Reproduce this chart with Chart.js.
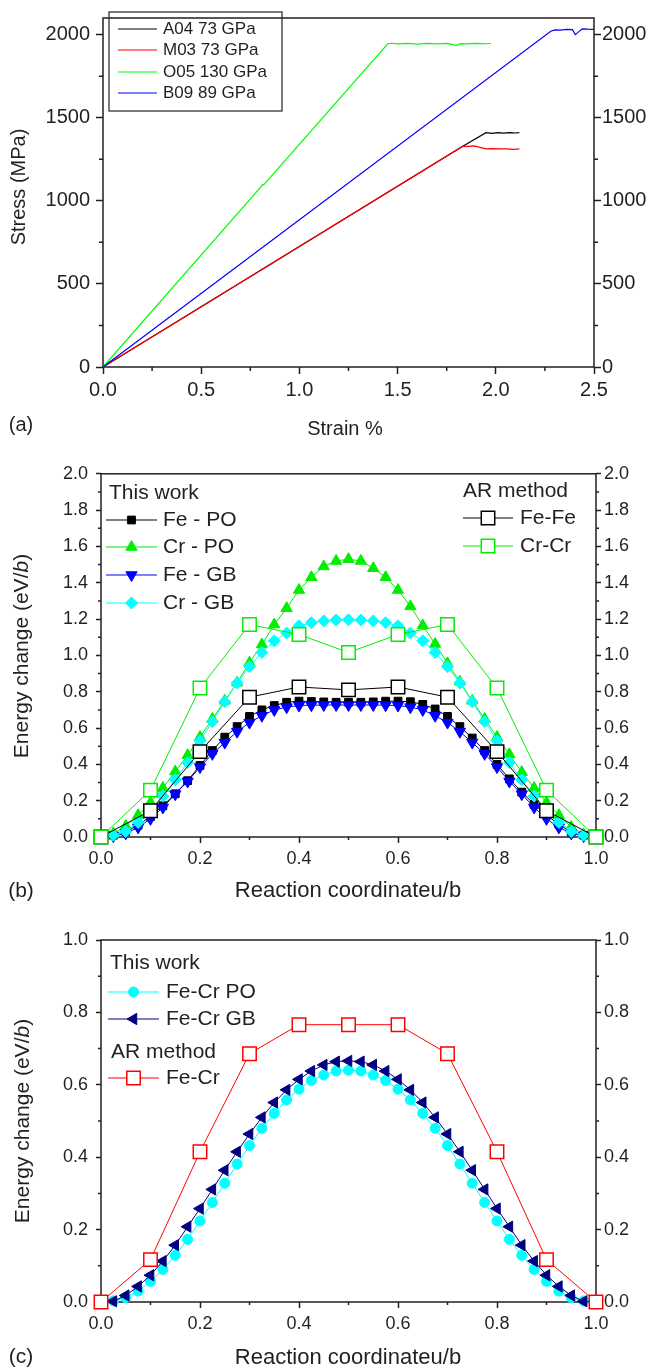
<!DOCTYPE html>
<html><head><meta charset="utf-8">
<script src="https://cdn.jsdelivr.net/npm/chart.js@4.4.0/dist/chart.umd.min.js"></script>
<style>
html,body{margin:0;padding:0;background:#fff;}
body{width:648px;height:1369px;position:relative;overflow:hidden;font-family:"Liberation Sans",Arial,sans-serif;color:#231f20;}
canvas{position:absolute;left:0;}
.t{position:absolute;white-space:nowrap;line-height:1;transform:translate(-50%,-50%);}
.r{transform:translate(-50%,-50%) rotate(-90deg);}
</style></head><body>
<canvas id="ca" width="648" height="455" style="top:0px"></canvas>
<canvas id="cb" width="648" height="465" style="top:455px"></canvas>
<canvas id="cc" width="648" height="449" style="top:920px"></canvas>
<div class="t" style="left:21px;top:424px;font-size:20px">(a)</div>
<div class="t" style="left:345px;top:428px;font-size:20px">Strain %</div>
<div class="t r" style="left:18px;top:187px;font-size:20px">Stress (MPa)</div>
<div class="t" style="left:21px;top:889px;font-size:21px">(b)</div>
<div class="t" style="left:348px;top:890px;font-size:22px">Reaction coordinateu/b</div>
<div class="t r" style="left:20px;top:656px;font-size:21px">Energy change (eV/<i>b</i>)</div>
<div class="t" style="left:21px;top:1355px;font-size:21px">(c)</div>
<div class="t" style="left:348px;top:1357px;font-size:22px">Reaction coordinateu/b</div>
<div class="t r" style="left:21px;top:1121px;font-size:21px">Energy change (eV/<i>b</i>)</div>
<script>
// ---------- Panel (a) data ----------
const strainTicks = [0, 0.5, 1.0, 1.5, 2.0, 2.5];
const strainMinor = [0.25, 0.75, 1.25, 1.75, 2.25];
const stressTicks = [0, 500, 1000, 1500, 2000];
const stressMinor = [250, 750, 1250, 1750];

const a04Strain = [0, 1.83, 1.95, 1.98, 2.01, 2.04, 2.07, 2.10, 2.12];
const a04Stress = [0, 1327, 1410, 1406, 1410, 1407, 1410, 1408, 1410];
const m03Strain = [0, 1.83, 1.86, 1.89, 1.92, 1.95, 1.98, 2.02, 2.06, 2.09, 2.12];
const m03Stress = [0, 1327, 1328, 1330, 1322, 1313, 1314, 1312, 1313, 1310, 1312];
const o05Strain = [0, 0.805, 0.81, 0.818, 1.45, 1.47, 1.50, 1.55, 1.60, 1.65, 1.70, 1.75, 1.80, 1.82, 1.85, 1.90, 1.95, 1.975];
const o05Stress = [0, 1085, 1096, 1096, 1945, 1948, 1944, 1947, 1943, 1947, 1944, 1947, 1936, 1946, 1944, 1947, 1945, 1948];
const b09Strain = [0, 2.28, 2.30, 2.33, 2.36, 2.39, 2.405, 2.42, 2.44, 2.47, 2.50];
const b09Stress = [0, 2020, 2028, 2027, 2032, 2030, 2000, 2015, 2035, 2033, 2032];

// ---------- Panel (b) data ----------
const uTicks = [0, 0.2, 0.4, 0.6, 0.8, 1.0];
const uMinor = [0.1, 0.3, 0.5, 0.7, 0.9];
const energyTicksB = [0, 0.2, 0.4, 0.6, 0.8, 1.0, 1.2, 1.4, 1.6, 1.8, 2.0];
const energyMinorB = [0.1, 0.3, 0.5, 0.7, 0.9, 1.1, 1.3, 1.5, 1.7, 1.9];
const uFine = [0,0.025,0.05,0.075,0.1,0.125,0.15,0.175,0.2,0.225,0.25,0.275,0.3,0.325,0.35,0.375,0.4,0.425,0.45,0.475,0.5,0.525,0.55,0.575,0.6,0.625,0.65,0.675,0.7,0.725,0.75,0.775,0.8,0.825,0.85,0.875,0.9,0.925,0.95,0.975,1.0];
const uAR = [0,0.1,0.2,0.3,0.4,0.5,0.6,0.7,0.8,0.9,1.0];
const fePO = [0,0.01,0.03,0.065,0.113,0.172,0.238,0.31,0.394,0.476,0.55,0.608,0.664,0.70,0.724,0.742,0.748,0.746,0.744,0.742,0.742,0.742,0.744,0.748,0.748,0.745,0.73,0.705,0.664,0.608,0.545,0.476,0.40,0.32,0.247,0.18,0.12,0.07,0.028,0.01,0];
const crPO = [0,0.02,0.06,0.12,0.19,0.27,0.36,0.45,0.55,0.65,0.75,0.85,0.96,1.06,1.17,1.26,1.36,1.43,1.49,1.52,1.53,1.52,1.48,1.43,1.36,1.27,1.165,1.063,0.956,0.855,0.75,0.65,0.55,0.455,0.357,0.27,0.19,0.12,0.055,0.015,0];
const feGB = [0,0.005,0.02,0.053,0.1,0.163,0.236,0.306,0.385,0.458,0.52,0.58,0.63,0.668,0.70,0.715,0.724,0.726,0.727,0.727,0.727,0.727,0.727,0.726,0.724,0.715,0.70,0.668,0.63,0.58,0.52,0.458,0.385,0.306,0.236,0.163,0.10,0.053,0.02,0.005,0];
const crGB = [0,0.01,0.03,0.08,0.145,0.225,0.315,0.41,0.53,0.636,0.745,0.848,0.938,1.016,1.08,1.123,1.163,1.18,1.19,1.195,1.196,1.195,1.19,1.18,1.163,1.123,1.08,1.016,0.938,0.848,0.745,0.636,0.53,0.41,0.315,0.225,0.145,0.08,0.03,0.01,0];
const arFeFe = [0,0.145,0.47,0.77,0.826,0.81,0.826,0.77,0.47,0.145,0];
const arCrCr = [0,0.258,0.82,1.17,1.115,1.016,1.115,1.17,0.82,0.258,0];

// ---------- Panel (c) data ----------
const energyTicksC = [0, 0.2, 0.4, 0.6, 0.8, 1.0];
const energyMinorC = [0.1, 0.3, 0.5, 0.7, 0.9];
const feCrPO = [0,0.003,0.012,0.03,0.057,0.09,0.129,0.173,0.224,0.275,0.328,0.381,0.432,0.48,0.521,0.558,0.588,0.612,0.627,0.638,0.64,0.638,0.627,0.612,0.588,0.558,0.521,0.48,0.432,0.381,0.328,0.275,0.224,0.173,0.129,0.09,0.057,0.03,0.012,0.003,0];
const feCrGB = [0,0.002,0.018,0.043,0.074,0.113,0.157,0.208,0.258,0.311,0.364,0.415,0.464,0.51,0.551,0.586,0.615,0.638,0.655,0.664,0.666,0.664,0.655,0.638,0.615,0.586,0.551,0.51,0.464,0.415,0.364,0.311,0.258,0.208,0.157,0.113,0.074,0.043,0.018,0.002,0];
const arFeCr = [0,0.117,0.415,0.686,0.766,0.766,0.766,0.686,0.415,0.117,0];

// ---------- helpers ----------
const INK = '#231f20';
const FONT = '"Liberation Sans", Arial, sans-serif';
const pts = (xs, ys) => xs.map((x, i) => ({x: x, y: ys[i]}));

const framePlugin = {
  id: 'frame',
  beforeDatasetsDraw(chart, args, o) {
    const ctx = chart.ctx, a = chart.chartArea;
    const xs = chart.scales.x, ys = chart.scales.y;
    ctx.save();
    ctx.strokeStyle = INK; ctx.lineWidth = o.width;
    ctx.strokeRect(a.left, a.top, a.right - a.left, a.bottom - a.top);
    ctx.beginPath();
    o.minorX.forEach(v => { const p = xs.getPixelForValue(v); ctx.moveTo(p, a.bottom); ctx.lineTo(p, a.bottom + o.len); });
    o.minorY.forEach(v => { const p = ys.getPixelForValue(v);
      ctx.moveTo(a.left, p); ctx.lineTo(a.left - o.len, p);
      ctx.moveTo(a.right, p); ctx.lineTo(a.right + o.len, p); });
    ctx.stroke();
    ctx.restore();
  }
};

const legendPlugin = {
  id: 'groupLegend',
  afterDatasetsDraw(chart, args, o) {
    const ctx = chart.ctx;
    ctx.save();
    if (o.box) { ctx.strokeStyle = '#333'; ctx.lineWidth = 1.3; ctx.strokeRect(o.box[0], o.box[1], o.box[2], o.box[3]); }
    ctx.font = o.size + 'px ' + FONT;
    ctx.textBaseline = 'middle'; ctx.textAlign = 'left';
    o.items.forEach(it => {
      if (it.header) { ctx.fillStyle = INK; ctx.fillText(it.header, it.x, it.y); return; }
      const ds = chart.data.datasets[it.ds];
      ctx.strokeStyle = ds.borderColor; ctx.lineWidth = ds.borderWidth; ctx.setLineDash([]);
      ctx.beginPath(); ctx.moveTo(it.x, it.y); ctx.lineTo(it.x + it.len, it.y); ctx.stroke();
      if (ds.pointRadius > 0) {
        ctx.fillStyle = ds.pointBackgroundColor; ctx.strokeStyle = ds.pointBorderColor; ctx.lineWidth = ds.pointBorderWidth;
        Chart.helpers.drawPoint(ctx, {pointStyle: ds.pointStyle, radius: ds.pointRadius, rotation: ds.pointRotation || 0, borderWidth: ds.pointBorderWidth}, it.x + it.len / 2, it.y);
      }
      ctx.fillStyle = INK;
      ctx.fillText(ds.label, it.x + it.len + it.gap, it.y);
    });
    ctx.restore();
  }
};

function axisX(ticks, min, max, fmt, tl, pad, size, h) {
  return { type: 'linear', position: 'bottom', min: min, max: max,
    afterBuildTicks: s => { s.ticks = ticks.map(v => ({value: v})); },
    afterFit: s => { s.height = h; },
    border: {display: false},
    grid: {drawOnChartArea: false, drawTicks: true, tickLength: tl, tickColor: INK, tickWidth: 1.5},
    ticks: {padding: pad, color: INK, font: {family: FONT, size: size}, callback: fmt, maxRotation: 0, autoSkip: false} };
}
function axisY(ticks, min, max, fmt, tl, pad, size, w, pos) {
  return { type: 'linear', position: pos, min: min, max: max,
    afterBuildTicks: s => { s.ticks = ticks.map(v => ({value: v})); },
    afterFit: s => { s.width = w; },
    border: {display: false},
    grid: {drawOnChartArea: false, drawTicks: true, tickLength: tl, tickColor: INK, tickWidth: 1.5},
    ticks: {padding: pad, color: INK, font: {family: FONT, size: size}, callback: fmt, autoSkip: false} };
}
const base = { responsive: false, animation: false, devicePixelRatio: 1, events: [] };

function lineDS(label, data, color, order) {
  return { label: label, data: data, borderColor: color, backgroundColor: color, borderWidth: 1.2,
    pointRadius: 0, tension: 0, clip: false, order: order };
}
function markDS(label, data, color, style, radius, rot, fill, order, lw) {
  return { label: label, data: data, borderColor: color, borderWidth: lw || 1, tension: 0, clip: false, order: order,
    pointStyle: style, pointRadius: radius, pointRotation: rot, pointBackgroundColor: fill, pointBorderColor: color,
    pointBorderWidth: (fill === '#ffffff') ? 1.5 : 1, pointHoverRadius: radius, backgroundColor: fill };
}
const f1 = v => Number(v).toFixed(1);
const f0 = v => String(v);

// ---------- Chart (a) ----------
new Chart(document.getElementById('ca'), {
  type: 'line',
  data: { datasets: [
    lineDS('A04 73 GPa', pts(a04Strain, a04Stress), '#000000', 4),
    lineDS('M03 73 GPa', pts(m03Strain, m03Stress), '#ff0000', 3),
    lineDS('O05 130 GPa', pts(o05Strain, o05Stress), '#00ff00', 2),
    lineDS('B09 89 GPa', pts(b09Strain, b09Stress), '#0000ff', 1)
  ]},
  options: Object.assign({}, base, {
    layout: {padding: {top: 7, left: 0, right: 0, bottom: 0}},
    scales: {
      x: axisX(strainTicks, 0, 2.5, f1, 7, 4, 20, 88),
      y: axisY(stressTicks, 0, 2100, f0, 7, 6, 20, 103, 'left'),
      y2: axisY(stressTicks, 0, 2100, f0, 7, 1, 20, 54, 'right')
    },
    plugins: {
      legend: {display: false}, tooltip: {enabled: false},
      frame: {width: 1.5, len: 4, minorX: strainMinor, minorY: stressMinor},
      groupLegend: {size: 17, box: [109, 12, 173, 99], items: [
        {ds: 0, x: 118, y: 29, len: 39, gap: 6},
        {ds: 1, x: 118, y: 50, len: 39, gap: 6},
        {ds: 2, x: 118, y: 72, len: 39, gap: 6},
        {ds: 3, x: 118, y: 93, len: 39, gap: 6}
      ]}
    }
  }),
  plugins: [framePlugin, legendPlugin]
});

// ---------- Chart (b) ----------
new Chart(document.getElementById('cb'), {
  type: 'line',
  data: { datasets: [
    markDS('Fe - PO', pts(uFine, fePO), '#000000', 'rect', 5.5, 0, '#000000', 6),
    markDS('Cr - PO', pts(uFine, crPO), '#00ee00', 'triangle', 6.5, 0, '#00ee00', 5),
    markDS('Fe - GB', pts(uFine, feGB), '#0000ff', 'triangle', 6.5, 180, '#0000ff', 4),
    markDS('Cr - GB', pts(uFine, crGB), '#00ffff', 'rectRot', 6, 0, '#00ffff', 3),
    markDS('Fe-Fe', pts(uAR, arFeFe), '#000000', 'rect', 9.5, 0, '#ffffff', 2),
    markDS('Cr-Cr', pts(uAR, arCrCr), '#00ee00', 'rect', 9.5, 0, '#ffffff', 1)
  ]},
  options: Object.assign({}, base, {
    layout: {padding: {top: 18, left: 0, right: 0, bottom: 0}},
    scales: {
      x: axisX(uTicks, 0, 1, f1, 6, 5, 18, 83),
      y: axisY(energyTicksB, 0, 2, f1, 5, 8, 18, 101, 'left'),
      y2: axisY(energyTicksB, 0, 2, f1, 5, 3, 18, 52, 'right')
    },
    plugins: {
      legend: {display: false}, tooltip: {enabled: false},
      frame: {width: 1.5, len: 3, minorX: uMinor, minorY: energyMinorB},
      groupLegend: {size: 21, items: [
        {header: 'This work', x: 109, y: 38},
        {ds: 0, x: 106, y: 65, len: 51, gap: 6},
        {ds: 1, x: 106, y: 92, len: 51, gap: 6},
        {ds: 2, x: 106, y: 120, len: 51, gap: 6},
        {ds: 3, x: 106, y: 148, len: 51, gap: 6},
        {header: 'AR method', x: 463, y: 36},
        {ds: 4, x: 463, y: 63, len: 50, gap: 7},
        {ds: 5, x: 463, y: 91, len: 50, gap: 7}
      ]}
    }
  }),
  plugins: [framePlugin, legendPlugin]
});

// ---------- Chart (c) ----------
new Chart(document.getElementById('cc'), {
  type: 'line',
  data: { datasets: [
    markDS('Fe-Cr PO', pts(uFine, feCrPO), '#00ffff', 'circle', 5, 0, '#00ffff', 3),
    markDS('Fe-Cr GB', pts(uFine, feCrGB), '#000080', 'triangle', 6.5, 270, '#000080', 2),
    markDS('Fe-Cr', pts(uAR, arFeCr), '#ff0000', 'rect', 9.5, 0, '#ffffff', 1)
  ]},
  options: Object.assign({}, base, {
    layout: {padding: {top: 20, left: 0, right: 0, bottom: 0}},
    scales: {
      x: axisX(uTicks, 0, 1, f1, 6, 5, 18, 67),
      y: axisY(energyTicksC, 0, 1, f1, 5, 8, 18, 101, 'left'),
      y2: axisY(energyTicksC, 0, 1, f1, 5, 3, 18, 52, 'right')
    },
    plugins: {
      legend: {display: false}, tooltip: {enabled: false},
      frame: {width: 1.5, len: 3, minorX: uMinor, minorY: energyMinorC},
      groupLegend: {size: 21, items: [
        {header: 'This work', x: 110, y: 43},
        {ds: 0, x: 108, y: 72, len: 51, gap: 7},
        {ds: 1, x: 108, y: 99, len: 51, gap: 7},
        {header: 'AR method', x: 111, y: 132},
        {ds: 2, x: 108, y: 158, len: 51, gap: 7}
      ]}
    }
  }),
  plugins: [framePlugin, legendPlugin]
});
</script>
</body></html>
